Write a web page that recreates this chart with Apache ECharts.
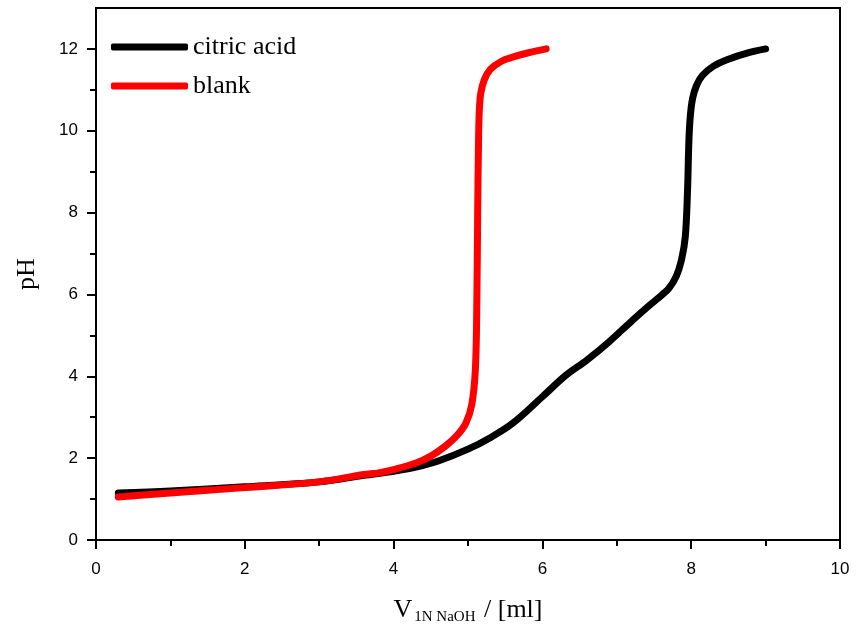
<!DOCTYPE html>
<html>
<head>
<meta charset="utf-8">
<script src="https://cdn.jsdelivr.net/npm/echarts@6/dist/echarts.min.js"></script>
<style>html,body{margin:0;padding:0;background:#fff}#c{width:857px;height:634px}</style>
</head>
<body>
<div id="c"></div>
<script>
const citricX = [0.3,1,2,3,3.6,4,4.3,4.6,5.0,5.3,5.6,6.0,6.3,6.6,6.9,7.2,7.45,7.6,7.7,7.8,7.87,7.92,7.95,7.97,7.99,8.02,8.07,8.15,8.3,8.5,8.75,9.0];
const citricY = [1.15,1.2,1.3,1.42,1.58,1.68,1.78,1.93,2.22,2.5,2.85,3.5,4.0,4.4,4.85,5.35,5.75,5.98,6.15,6.45,6.85,7.4,8.5,9.8,10.4,10.8,11.1,11.35,11.58,11.75,11.9,12.0];
const blankX = [0.3,1,2,3,3.6,3.8,4.0,4.3,4.5,4.7,4.85,4.97,5.05,5.1,5.12,5.13,5.14,5.15,5.17,5.22,5.3,5.45,5.6,5.8,6.05];
const blankY = [1.05,1.15,1.28,1.42,1.6,1.64,1.72,1.88,2.05,2.3,2.55,2.85,3.3,4.2,6,8,9.5,10.4,10.9,11.25,11.5,11.7,11.8,11.9,12.0];
const yMajor = [0,2,4,6,8,10,12];
const yMinor = [1,3,5,7,9,11];
const seriesNames = ['citric acid','blank'];

const pair = (xs, ys) => xs.map((x,i)=>[x, ys[i]]);
const chart = echarts.init(document.getElementById('c'), null, {renderer:'canvas'});
const axisFont = {fontFamily:'Liberation Sans, Arial, sans-serif', fontSize:17, color:'#000'};
const serif = 'Liberation Serif, Times New Roman, serif';
chart.setOption({
  animation:false,
  grid:{left:96,right:17,top:8,bottom:94,show:true,borderColor:'#000',borderWidth:2,backgroundColor:'transparent'},
  legend:{
    orient:'vertical', left:106, top:29, itemWidth:77, itemHeight:7, itemGap:13, icon:'roundRect',
    textStyle:{fontFamily:serif, fontSize:26, color:'#000', lineHeight:26},
    data:seriesNames
  },
  xAxis:{
    type:'value', min:0, max:10, interval:2,
    axisLine:{onZero:false, lineStyle:{color:'#000',width:2}},
    axisTick:{length:9, lineStyle:{width:2,color:'#000'}},
    minorTick:{show:true, splitNumber:2, length:6, lineStyle:{width:2,color:'#000'}},
    splitLine:{show:false},
    axisLabel:Object.assign({margin:21}, axisFont),
    name:'{v|V}{s|1N NaOH}{v| / [ml]}', nameLocation:'middle', nameGap:56,
    nameTextStyle:{rich:{
      v:{fontFamily:serif, fontSize:26, color:'#000'},
      s:{fontFamily:serif, fontSize:15, color:'#000', padding:[14,2,0,2]}
    }}
  },
  yAxis:[{
    type:'value', min:0, max:13, position:'left',
    axisLine:{onZero:false, lineStyle:{color:'#000',width:2}},
    axisTick:{length:9, customValues:yMajor, lineStyle:{width:2,color:'#000'}},
    splitLine:{show:false},
    axisLabel:Object.assign({margin:18, customValues:yMajor}, axisFont),
    name:'pH', nameLocation:'middle', nameGap:56,
    nameTextStyle:{fontFamily:serif, fontSize:26, color:'#000'}
  },{
    type:'value', min:0, max:13, position:'left', offset:0,
    axisLine:{show:false},
    axisTick:{show:true, length:6, customValues:yMinor, lineStyle:{width:2,color:'#000'}},
    axisLabel:{show:false, customValues:yMinor},
    splitLine:{show:false}
  }],
  series:[
    {name:seriesNames[0], type:'line', data:pair(citricX,citricY), showSymbol:false, symbol:'none',
     smooth:0.35, color:'#000', lineStyle:{width:7,color:'#000',cap:'round',join:'round'}},
    {name:seriesNames[1], type:'line', data:pair(blankX,blankY), showSymbol:false, symbol:'none',
     smooth:0.35, color:'#ff0000', lineStyle:{width:7,color:'#ff0000',cap:'round',join:'round'}}
  ]
});
</script>
</body>
</html>
